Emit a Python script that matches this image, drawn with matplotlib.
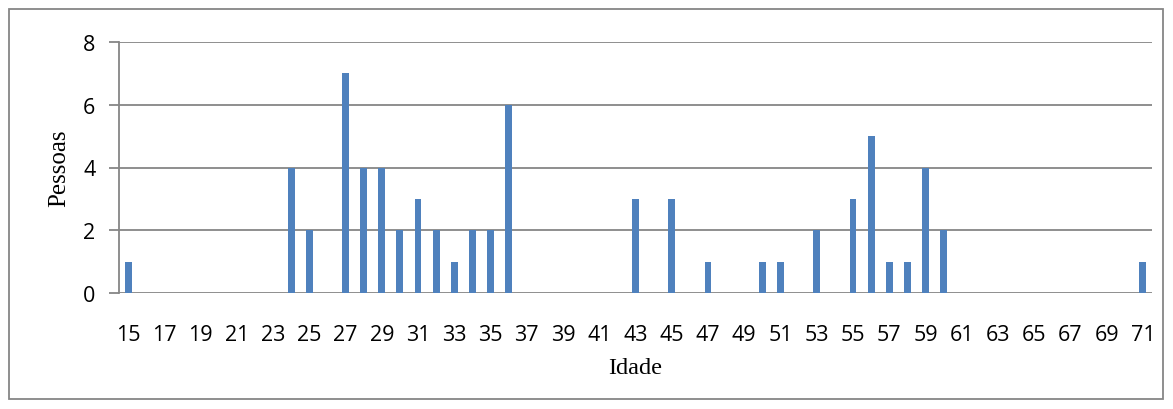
import matplotlib
matplotlib.use("Agg")
import matplotlib.pyplot as plt
from matplotlib.patches import Rectangle
import numpy as np

# Data
ages = list(range(15, 72))
counts_by_age = {15: 1, 24: 4, 25: 2, 27: 7, 28: 4, 29: 4, 30: 2, 31: 3, 32: 2,
                 33: 1, 34: 2, 35: 2, 36: 6, 43: 3, 45: 3, 47: 1, 50: 1, 51: 1,
                 53: 2, 55: 3, 56: 5, 57: 1, 58: 1, 59: 4, 60: 2, 71: 1}
pessoas = [counts_by_age.get(a, 0) for a in ages]
y_ticks = [0, 2, 4, 6, 8]

bar_color = "#4f81bd"
grid_color = "#868686"

fig = plt.figure(figsize=(11.73, 4.10), dpi=100)
ax = fig.add_axes([119 / 1173, 1 - 294 / 410, (1152 - 119) / 1173, (294 - 43) / 410])

x = np.arange(len(ages))
ax.bar(x, pessoas, width=0.38, color=bar_color, zorder=3)

ax.set_xlim(-0.5, len(ages) - 0.5)
ax.set_ylim(0, 8)
ax.set_yticks(y_ticks)
ax.set_xticks(x[::2])
ax.set_xticklabels([str(a) for a in ages[::2]])

for t in y_ticks:
    ax.axhline(t, color=grid_color, lw=1.3, zorder=1)

for s in ["top", "right", "bottom"]:
    ax.spines[s].set_visible(False)
ax.spines["left"].set_color(grid_color)
ax.spines["left"].set_linewidth(1.3)

ax.tick_params(axis="y", length=7, width=1.3, color=grid_color, pad=10,
               labelsize=15.5)
ax.tick_params(axis="x", length=0, pad=22, labelsize=15.5)
for lab in ax.get_xticklabels() + ax.get_yticklabels():
    lab.set_fontfamily("Open Sans")

ax.set_xlabel("Idade", family="Liberation Serif", fontsize=17.5, labelpad=9)
ax.set_ylabel("Pessoas", family="Liberation Serif", fontsize=18, labelpad=9)

# outer chart border
fig.patches.append(Rectangle((9 / 1173, 1 - 400 / 410), (1163 - 9) / 1173, 390 / 410,
                             transform=fig.transFigure, fill=False,
                             edgecolor=grid_color, lw=1.3))

fig.savefig("out.png", dpi=100)
